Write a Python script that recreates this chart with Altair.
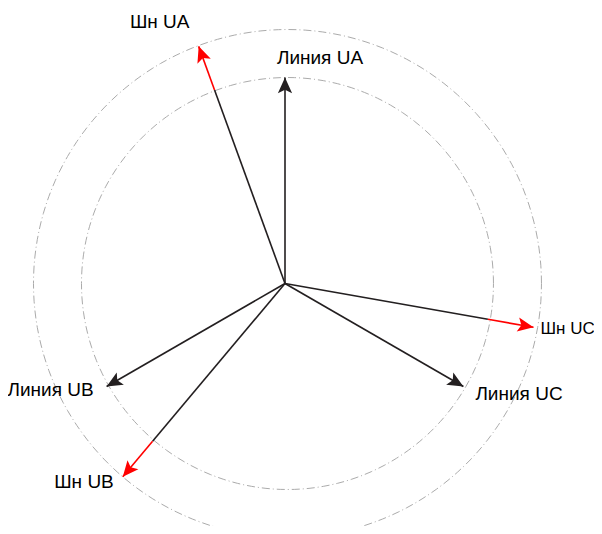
import altair as alt
import pandas as pd
import numpy as np

# Phasor data (magnitude relative to line voltage, angle in degrees, counter-clockwise from +x)
names = ["Линия UA", "Линия UB", "Линия UC", "Шн UA", "Шн UB", "Шн UC"]
labels = ["Линия UA", "Линия UB", "Линия  UC", "Шн UA", "Шн UB", "Шн UC"]
magnitudes = [1.0, 1.0, 1.0, 1.225, 1.225, 1.225]
angles_deg = [90, 210, -30, 110, 230, -10]
circle_radii = [1.0, 1.233]
circle_center = [0.012, 0.0]

# label placement offsets from arrow tip (pixels), alignment and size
label_dx = [35, -13, 12, -39, -9, 7]
label_dy = [-20, 3, 7, -24, 5, 2]
label_align = ["center", "right", "left", "center", "right", "left"]
label_size = [19, 19, 19, 19, 19, 17]

PX = 206.0            # pixels per unit
W, H = 586, 518       # plot area
CX, CY = 277, 275.5   # center in plot pixels
xdom = [-CX / PX, (W - CX) / PX]
ydom = [-(H - CY) / PX, CY / PX]

rad = np.deg2rad(angles_deg)
tip_x = np.array(magnitudes) * np.cos(rad)
tip_y = np.array(magnitudes) * np.sin(rad)

# shaft segments: black up to inner circle, red beyond
seg_rows = []
for n, m, a in zip(names, magnitudes, rad):
    r_in = min(m, circle_radii[0])
    seg_rows.append(dict(name=n, x=0.0, y=0.0, x2=r_in * np.cos(a), y2=r_in * np.sin(a), col="#231f20"))
    if m > circle_radii[0]:
        seg_rows.append(dict(name=n, x=r_in * np.cos(a), y=r_in * np.sin(a),
                             x2=m * np.cos(a), y2=m * np.sin(a), col="#ff0000"))
segs = pd.DataFrame(seg_rows)

heads = pd.DataFrame(dict(
    name=names, x=tip_x, y=tip_y,
    rot=[(90 - a) % 360 for a in angles_deg],
    col=["#231f20" if m <= 1.0 else "#ff0000" for m in magnitudes],
))

lab = pd.DataFrame(dict(
    label=labels,
    x=tip_x + np.array(label_dx) / PX,
    y=tip_y - np.array(label_dy) / PX,
    align=label_align,
    size=label_size,
))

t = np.arange(0, 361, 2)
circ = pd.concat([
    pd.DataFrame(dict(c=i, t=t,
                      x=circle_center[0] + r * np.cos(np.deg2rad(t)),
                      y=circle_center[1] + r * np.sin(np.deg2rad(t))))
    for i, r in enumerate(circle_radii)
])

xs = alt.Scale(domain=xdom, nice=False, zero=False)
ys = alt.Scale(domain=ydom, nice=False, zero=False)
X = lambda f="x": alt.X(f"{f}:Q", scale=xs, axis=None)
Y = lambda f="y": alt.Y(f"{f}:Q", scale=ys, axis=None)

circles = alt.Chart(circ).mark_line(
    color="#ababab", strokeWidth=1, strokeDash=[8, 3, 1, 3]
).encode(x=X(), y=Y(), detail="c:N", order="t:Q")

shafts = alt.Chart(segs).mark_rule(strokeWidth=1.6).encode(
    x=X(), y=Y(), x2="x2:Q", y2="y2:Q", color=alt.Color("col:N", scale=None)
)

arrow_path = "M0,0 L0.45,1 L0,0.78 L-0.45,1 Z"
arrowheads = alt.Chart(heads).mark_point(
    shape=arrow_path, filled=True, size=1000, opacity=1, strokeWidth=0
).encode(
    x=X(), y=Y(), angle=alt.Angle("rot:Q", scale=None),
    color=alt.Color("col:N", scale=None),
)

texts = []
for al in ["left", "center", "right"]:
    texts.append(
        alt.Chart(lab[lab["align"] == al]).mark_text(
            align=al, baseline="middle", font="Liberation Sans", color="#000000"
        ).encode(x=X(), y=Y(), text="label:N", size=alt.Size("size:Q", scale=None))
    )

chart = alt.layer(circles, shafts, arrowheads, *texts).properties(
    width=W, height=H, padding=0, autosize=alt.AutoSizeParams(type="none")
).configure_view(stroke=None)

chart.save("out.html", embed_options={"renderer": "svg", "actions": False})
